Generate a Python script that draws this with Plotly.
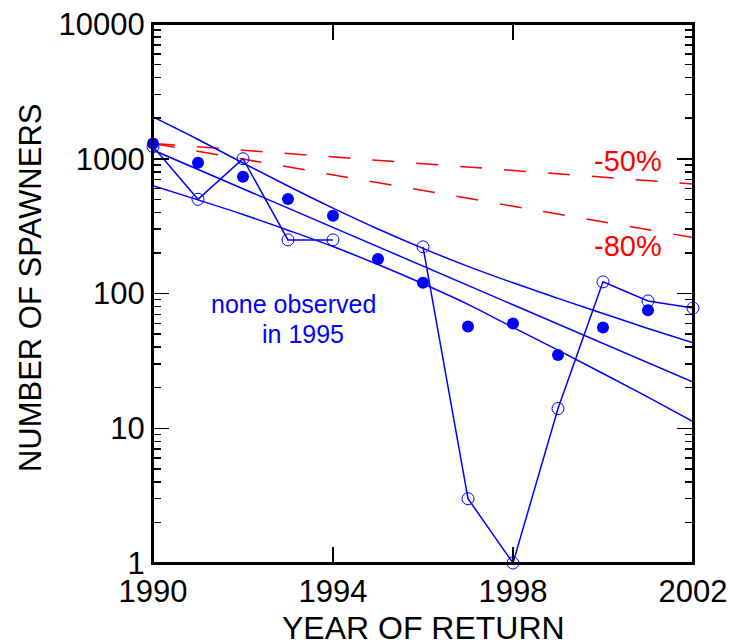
import plotly.graph_objects as go

# ---- data ----
filled_years = [1990, 1991, 1992, 1993, 1994, 1995, 1996, 1997, 1998, 1999, 2000, 2001]
filled_vals = [1300, 935, 736, 503, 378, 180, 120, 57, 60, 35, 56, 75]

open_years = [1990, 1991, 1992, 1993, 1994, 1995, 1996, 1997, 1998, 1999, 2000, 2001, 2002]
open_vals = [1230, 500, 1000, 250, 250, None, 222, 3, 1, 14, 122, 88, 78]

fit_years = [1990, 2002]
fit_vals = [1160, 22]

band_years = [1990, 1991, 1992, 1993, 1994, 1995, 1996, 1997, 1998, 1999, 2000, 2001, 2002]
band_upper = [2040, 1390, 930, 628, 430, 301, 216, 159, 120, 92, 71, 55, 43]
band_lower = [630, 495, 386, 295, 223, 164, 118, 83, 56, 38, 25.5, 17, 11.2]

ref_years = [1990, 2002]
ref_50 = [1300, 650]
ref_80 = [1300, 260]

x_ticks = [1990, 1994, 1998, 2002]
y_ticks = [1, 10, 100, 1000, 10000]
y_ticktext = ["1", "10", "100", "1000", "10000"]
y_minor = [m * d for d in (1, 10, 100, 1000) for m in range(2, 10)]

BLUE = "#0000FF"
RED = "#FF0000"
FONT = "Liberation Sans, Arial, sans-serif"

fig = go.Figure()

# red reference declines
for vals in (ref_50, ref_80):
    fig.add_trace(go.Scatter(x=ref_years, y=vals, mode="lines",
                             line=dict(color=RED, width=1.5, dash="22px,22px"),
                             showlegend=False, hoverinfo="skip"))

# regression line and bands
fig.add_trace(go.Scatter(x=fit_years, y=fit_vals, mode="lines",
                         line=dict(color=BLUE, width=1.5), showlegend=False))
fig.add_trace(go.Scatter(x=band_years, y=band_upper, mode="lines",
                         line=dict(color=BLUE, width=1.5, shape="spline"), showlegend=False))
fig.add_trace(go.Scatter(x=band_years, y=band_lower, mode="lines",
                         line=dict(color=BLUE, width=1.5, shape="spline"), showlegend=False))

# open circles connected
fig.add_trace(go.Scatter(x=open_years, y=open_vals, mode="lines+markers",
                         line=dict(color=BLUE, width=1.5), connectgaps=False,
                         marker=dict(symbol="circle-open", size=12, color=BLUE,
                                     line=dict(width=1, color=BLUE)),
                         cliponaxis=False, showlegend=False))

# filled circles
fig.add_trace(go.Scatter(x=filled_years, y=filled_vals, mode="markers",
                         marker=dict(symbol="circle", size=12, color=BLUE),
                         cliponaxis=False, showlegend=False))

fig.update_layout(
    width=730, height=643,
    margin=dict(l=153, r=37, t=24, b=80, autoexpand=False),
    paper_bgcolor="white", plot_bgcolor="white",
    font=dict(family=FONT, color="black", size=31),
    xaxis=dict(range=[1990, 2002], tickmode="array", tickvals=x_ticks,
               ticks="inside", ticklen=16, tickwidth=1.5, tickcolor="black",
               showline=True, linecolor="black", linewidth=2, mirror="ticks",
               showgrid=False, zeroline=False, tickfont=dict(size=31),
               automargin=False, ticklabeloverflow="allow"),
    yaxis=dict(type="log", range=[0, 4], tickmode="array", tickvals=y_ticks,
               ticktext=y_ticktext,
               ticks="inside", ticklen=16, tickwidth=1.5, tickcolor="black",
               showline=True, linecolor="black", linewidth=2, mirror="ticks",
               showgrid=False, zeroline=False, tickfont=dict(size=31),
               automargin=False, ticklabeloverflow="allow",
               minor=dict(tickmode="array", tickvals=y_minor, ticks="inside",
                          ticklen=8, tickwidth=1.5, tickcolor="black", showgrid=False)),
)

# plot frame
fig.add_shape(type="rect", xref="paper", yref="paper", x0=0, x1=1, y0=0, y1=1,
              line=dict(color="black", width=2), layer="above")

annots = [
    dict(text="NUMBER OF SPAWNERS", x=0, xshift=-123, y=0.510, textangle=-90,
         xanchor="center", yanchor="middle", font=dict(size=31, color="black")),
    dict(text="YEAR OF RETURN", x=0.5, y=0, yshift=-65, xanchor="center",
         yanchor="middle", font=dict(size=32, color="black")),
    dict(text="-50%", x=0.8796, y=0.7458, xanchor="center", yanchor="middle",
         font=dict(size=29, color=RED)),
    dict(text="-80%", x=0.8796, y=0.589, xanchor="center", yanchor="middle",
         font=dict(size=29, color=RED)),
    dict(text="none observed", x=0.2611, y=0.4798, xanchor="center", yanchor="middle",
         font=dict(size=25, color=BLUE)),
    dict(text="in 1995", x=0.2769, y=0.4241, xanchor="center", yanchor="middle",
         font=dict(size=25, color=BLUE)),
]
for a in annots:
    a.update(xref="paper", yref="paper", showarrow=False)
    fig.add_annotation(**a)

fig.write_html(
    "out.html",
    config={"displayModeBar": False, "staticPlot": True},
    post_script="document.body.style.margin='0';document.body.style.overflow='hidden';",
)
